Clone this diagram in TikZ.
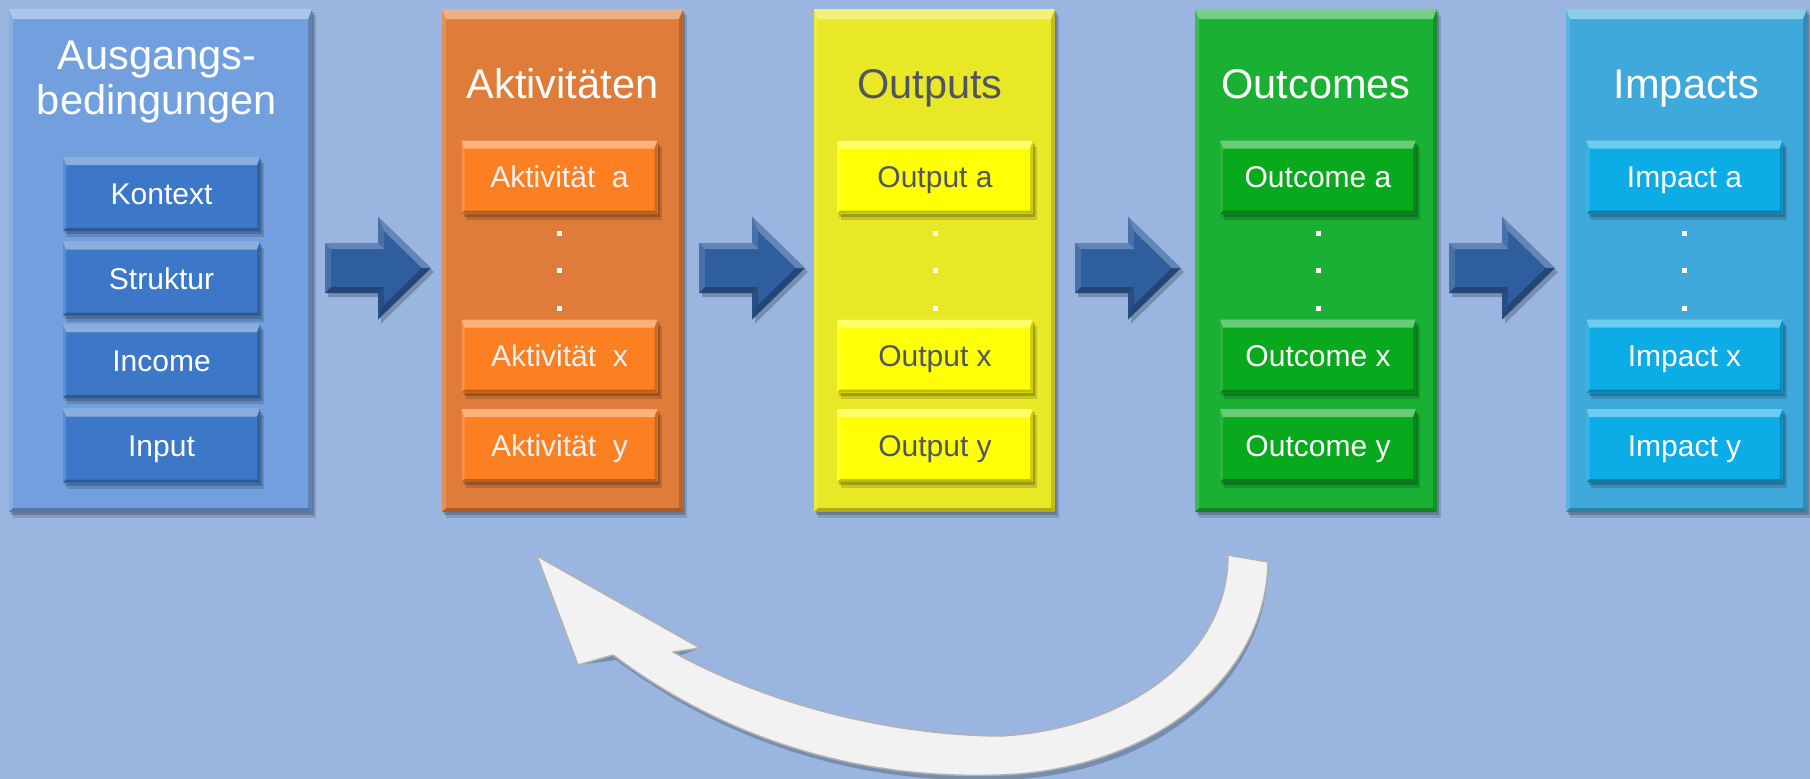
\documentclass[tikz,border=0pt]{standalone}
\usepackage{fontspec}
\setmainfont{Liberation Sans}
\usetikzlibrary{shadows,calc}
\definecolor{bg}{HTML}{99B5E0}
\definecolor{c1o}{HTML}{72A0DF}\definecolor{c1i}{HTML}{3D78C8}
\definecolor{c2o}{HTML}{E07C3A}\definecolor{c2i}{HTML}{FC7F22}
\definecolor{c3o}{HTML}{E8E826}\definecolor{c3i}{HTML}{FFFF05}
\definecolor{c4o}{HTML}{1AB034}\definecolor{c4i}{HTML}{08A91C}
\definecolor{c5o}{HTML}{40A9DB}\definecolor{c5i}{HTML}{0CACE6}
\definecolor{arrc}{HTML}{2F5E9E}
\definecolor{darktext}{HTML}{505560}
\definecolor{curvec}{HTML}{F2F2F2}
\tikzset{
  bev/.style 2 args={path picture={
    \path (path picture bounding box.north west) coordinate (pNW)
          (path picture bounding box.north east) coordinate (pNE)
          (path picture bounding box.south west) coordinate (pSW)
          (path picture bounding box.south east) coordinate (pSE);
    \fill[white,opacity=.4] (pNW) -- (pNE) -- ([shift={(-#2pt,-#1pt)}]pNE) -- ([shift={(#2pt,-#1pt)}]pNW) -- cycle;
    \fill[white,opacity=.15] (pNW) -- ([shift={(#2pt,-#1pt)}]pNW) -- ([shift={(#2pt,#2pt)}]pSW) -- (pSW) -- cycle;
    \fill[black,opacity=.18] (pNE) -- ([shift={(-#2pt,-#1pt)}]pNE) -- ([shift={(-#2pt,#2pt)}]pSE) -- (pSE) -- cycle;
    \fill[black,opacity=.25] (pSW) -- ([shift={(#2pt,#2pt)}]pSW) -- ([shift={(-#2pt,#2pt)}]pSE) -- (pSE) -- cycle;
  }},
  mysh/.style={drop shadow={shadow xshift=4pt,shadow yshift=-6pt,opacity=.15,fill=black},
               drop shadow={shadow xshift=2pt,shadow yshift=-3pt,opacity=.2,fill=black}},
  outerbox/.style={rectangle, inner sep=0pt, minimum height=503pt, bev={10}{4}, mysh},
  ibox/.style={rectangle, inner sep=0pt, minimum width=196pt, minimum height=73pt,
               bev={8}{3}, mysh, text=white, font=\fontsize{30}{36}\selectfont,
               text height=21.5pt, text depth=0pt},
  title/.style={text=white, font=\fontsize{41.5}{45}\selectfont, inner sep=0pt},
}
\newcommand\blockarrow[1]{%
\begin{scope}[shift={(#1,268)}]
  \fill[black,opacity=.22,shift={(3,4)}] (0,-25) -- (53,-25) -- (53,-51.5) -- (106,0) -- (53,51.5) -- (53,25) -- (0,25) -- cycle;
  \fill[arrc] (0,-25) -- (53,-25) -- (53,-51.5) -- (106,0) -- (53,51.5) -- (53,25) -- (0,25) -- cycle;
  \fill[white,opacity=.25] (0,-25) -- (53,-25) -- (59,-19) -- (6,-19) -- cycle;
  \fill[white,opacity=.25] (53,-51.5) -- (106,0) -- (97,0) -- (59,-37) -- cycle;
  \fill[white,opacity=.12] (0,-25) -- (6,-19) -- (6,19) -- (0,25) -- cycle;
  \fill[white,opacity=.12] (53,-51.5) -- (59,-37) -- (59,-19) -- (53,-25) -- cycle;
  \fill[black,opacity=.25] (0,25) -- (53,25) -- (59,19) -- (6,19) -- cycle;
  \fill[black,opacity=.25] (53,51.5) -- (106,0) -- (97,0) -- (59,37) -- cycle;
  \fill[black,opacity=.15] (53,25) -- (59,19) -- (59,37) -- (53,51.5) -- cycle;
\end{scope}}
\newcommand\threedots[1]{%
  \foreach \yy in {233,270,308} {\fill[white] (#1-2.5,\yy-2.5) rectangle ++(5,5);}}
\begin{document}
\begin{tikzpicture}[x=1pt,y=-1pt]
\useasboundingbox (0,0) rectangle (1810,779);
\fill[bg] (0,0) rectangle (1810,779);

% column 1
\node[outerbox, fill=c1o, minimum width=303pt] (b1) at (160.5,260.5) {};
\node[title, align=center] (t1) at (157,82) {Ausgangs-\\bedingungen};
\node[ibox, fill=c1i, minimum width=197pt, minimum height=74pt] (k1) at (161.5,194) {Kontext};
\node[ibox, fill=c1i, minimum width=197pt, minimum height=74pt] (k2) at (161.5,278.5) {Struktur};
\node[ibox, fill=c1i, minimum width=197pt, minimum height=74pt] (k3) at (161.5,361) {Income};
\node[ibox, fill=c1i, minimum width=197pt, minimum height=74pt] (k4) at (161.5,445.5) {Input};

% column 2
\node[outerbox, fill=c2o, minimum width=241pt] (b2) at (562.5,260.5) {};
\node[title, anchor=base] (t2) at (562.5,98) {Aktivitäten};
\node[ibox, fill=c2i, text=white!95!black] (a1) at (559.5,177) {Aktivität\ \ a};
\threedots{559.5}
\node[ibox, fill=c2i, text=white!95!black] (a2) at (559.5,356) {Aktivität\ \ x};
\node[ibox, fill=c2i, text=white!95!black] (a3) at (559.5,445.5) {Aktivität\ \ y};

% column 3
\node[outerbox, fill=c3o, minimum width=241pt] (b3) at (934.5,260.5) {};
\node[title, anchor=base, text=darktext] (t3) at (930,98) {Outputs};
\node[ibox, fill=c3i, text=darktext] (o1) at (935,177) {Output a};
\threedots{935}
\node[ibox, fill=c3i, text=darktext] (o2) at (935,356) {Output x};
\node[ibox, fill=c3i, text=darktext] (o3) at (935,445.5) {Output y};

% column 4
\node[outerbox, fill=c4o, minimum width=242pt] (b4) at (1316,260.5) {};
\node[title, anchor=base] (t4) at (1316,98) {Outcomes};
\node[ibox, fill=c4i] (u1) at (1318,177) {Outcome a};
\threedots{1318}
\node[ibox, fill=c4i] (u2) at (1318,356) {Outcome x};
\node[ibox, fill=c4i] (u3) at (1318,445.5) {Outcome y};

% column 5
\node[outerbox, fill=c5o, minimum width=241pt] (b5) at (1686.5,260.5) {};
\node[title, anchor=base] (t5) at (1686.5,98) {Impacts};
\node[ibox, fill=c5i] (i1) at (1684.5,177) {Impact a};
\threedots{1684.5}
\node[ibox, fill=c5i] (i2) at (1684.5,356) {Impact x};
\node[ibox, fill=c5i] (i3) at (1684.5,445.5) {Impact y};

% block arrows
\blockarrow{325}
\blockarrow{699}
\blockarrow{1075}
\blockarrow{1449}

% curved feedback arrow
\coordinate (tailO) at (1268,562);
\coordinate (tailI) at (1228,555);
\coordinate (headL) at (578,665);
\coordinate (headT) at (537,556);
\coordinate (headR) at (700,648);
\def\curvepath{(tailO) .. controls (1266,680) and (1150,770) .. (1000,775)
  .. controls (850,780) and (720,735) .. (613,655) -- (headL) -- (headT) -- (headR) -- (673,652)
  .. controls (760,700) and (880,735) .. (1000,736)
  .. controls (1120,730) and (1228,660) .. (tailI) -- cycle}
\fill[black,opacity=.22,shift={(3,5)}] \curvepath;
\fill[curvec, draw=black!30, line width=1.5pt, line join=round] \curvepath;
\end{tikzpicture}
\end{document}
